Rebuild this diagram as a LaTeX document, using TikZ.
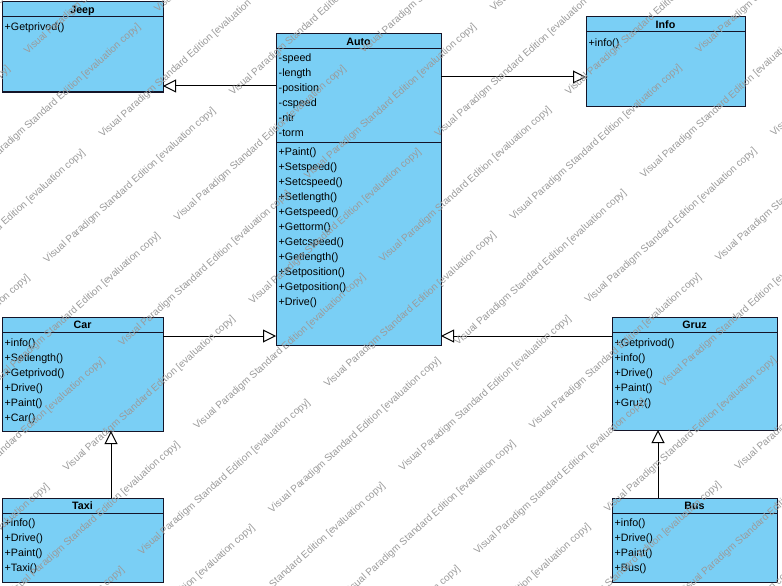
\documentclass[tikz,border=0pt]{standalone}
\usepackage{fontspec}
\setmainfont{Liberation Sans}
\usetikzlibrary{arrows.meta}
\definecolor{classfill}{RGB}{122,207,245}
\definecolor{classline}{RGB}{20,20,40}
\definecolor{wmgray}{RGB}{155,155,155}

% a class box: name, left, top, width, height, title
\newcommand\umlclass[6]{%
  \node[classbox, minimum width=#4pt, minimum height=#5pt] (#1) at (#2,#3) {};
  \draw[rule] ([yshift=-15pt]#1.north west) -- ([yshift=-15pt]#1.north east);
  \node[classtitle] (#1-title) at ([yshift=-11.5pt]#1.north) {#6};
}
% member rows: class name, row prefix, first baseline below the top, list
\newcommand\umlrows[4]{%
  \foreach \t [count=\k] in {#4} {
    \node[member] (#1-#2\k) at ([xshift=2.5pt, yshift={-(#3+15*(\k-1))*1pt}]#1.north west) {\t};
  }
}

\begin{document}
\begin{tikzpicture}[x=1pt, y=-1pt,
  classbox/.style={draw=classline, line width=1pt, fill=classfill, anchor=north west, inner sep=0pt, outer sep=0pt},
  classtitle/.style={font=\fontsize{10.7}{12}\selectfont\bfseries, anchor=base, inner sep=0pt},
  member/.style={font=\fontsize{10.7}{12}\selectfont, anchor=base west, inner sep=0pt},
  rule/.style={draw=classline, line width=1pt},
  gen/.style={draw=black, line width=1pt, -{Triangle[open, length=13pt, width=13pt]}},
  wmtext/.style={font=\fontsize{10}{11}\selectfont, text=wmgray, anchor=base west, inner sep=0pt, rotate=42}
]
\useasboundingbox[fill=white] (0,0) rectangle (782,586);

% classes
\umlclass{jeep}{2}{2}{161}{90}{Jeep}
\umlrows{jeep}{m}{28.5}{+Getprivod()}

\umlclass{auto}{276}{34}{165}{311}{Auto}
\draw[rule] ([yshift=-108pt]auto.north west) -- ([yshift=-108pt]auto.north east);
\umlrows{auto}{a}{27.5}{-speed,-length,-position,-cspeed,-ntr,-torm}
\umlrows{auto}{o}{121.5}{+Paint(),+Setspeed(),+Setcspeed(),+Setlength(),+Getspeed(),+Gettorm(),+Getcspeed(),+Getlength(),+Setposition(),+Getposition(),+Drive()}

\umlclass{info}{586}{17}{159}{89}{Info}
\umlrows{info}{m}{29.5}{+info()}

\umlclass{car}{2}{317}{161}{114}{Car}
\umlrows{car}{m}{29.5}{+info(),+Setlength(),+Getprivod(),+Drive(),+Paint(),+Car()}

\umlclass{gruz}{612}{317}{165}{113}{Gruz}
\umlrows{gruz}{m}{29.5}{+Getprivod(),+info(),+Drive(),+Paint(),+Gruz()}

\umlclass{taxi}{2}{498}{161}{84}{Taxi}
\umlrows{taxi}{m}{28.5}{+info(),+Drive(),+Paint(),+Taxi()}

\umlclass{bus}{612}{498}{165}{84}{Bus}
\umlrows{bus}{m}{28.5}{+info(),+Drive(),+Paint(),+Bus()}

% generalizations
\coordinate (yjeep) at (0,86);
\coordinate (yinfo) at (0,77);
\coordinate (ymid) at (0,336);
\coordinate (xtaxi) at (111,0);
\coordinate (xbus) at (658,0);
\draw[gen] (auto.west |- yjeep) -- (jeep.east |- yjeep);
\draw[gen] (auto.east |- yinfo) -- (info.west |- yinfo);
\draw[gen] (car.east |- ymid) -- (auto.west |- ymid);
\draw[gen] (gruz.west |- ymid) -- (auto.east |- ymid);
\draw[gen] (taxi.north -| xtaxi) -- (car.south -| xtaxi);
\draw[gen] (bus.north -| xbus) -- (gruz.south -| xbus);

% edition stamp tiled over the sheet (only copies that reach the sheet)
\begin{scope}
\clip (0,0) rectangle (782,586);
\foreach \i in {-8,...,8} {
  \foreach \j in {-9,...,9} {
    \pgfmathsetmacro\wx{197+\i*185.8+\j*130.4}
    \pgfmathsetmacro\wy{430-\i*167.3-\j*42}
    \pgfmathtruncatemacro\keep{and(and(\wx>-170,\wx<780),and(\wy>2,\wy<740))}
    \ifnum\keep=1
      \node[wmtext] (wm-\i-\j) at (\wx,\wy) {Visual Paradigm Standard Edition [evaluation copy]};
    \fi
  }
}
\end{scope}
\end{tikzpicture}
\end{document}
